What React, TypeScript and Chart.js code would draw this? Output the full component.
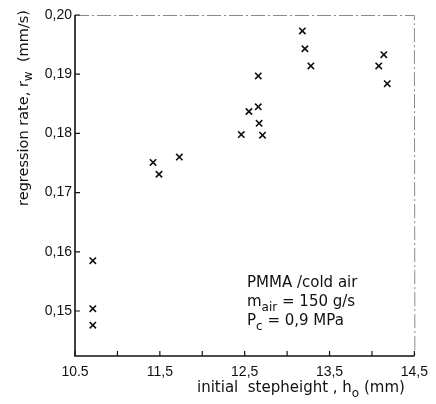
import React, { useEffect, useRef } from "react";
import { Chart, registerables } from "chart.js";

Chart.register(...registerables);

const stepHeight = [10.71, 10.71, 10.71, 11.42, 11.49, 11.73, 12.46, 12.55, 12.66, 12.67, 12.66, 12.71, 13.18, 13.21, 13.28, 14.08, 14.14, 14.18];
const regressionRate = [0.1585, 0.1504, 0.1476, 0.1751, 0.1731, 0.176, 0.1798, 0.1837, 0.1845, 0.1817, 0.1897, 0.1797, 0.1973, 0.1943, 0.1914, 0.1914, 0.1933, 0.1884];
const xTickValues = [10.5, 11.0, 11.5, 12.0, 12.5, 13.0, 13.5, 14.0, 14.5];
const xTickLabels: Record<string, string> = { "10.5": "10.5", "11.5": "11,5", "12.5": "12,5", "13.5": "13,5", "14.5": "14,5" };
const yTickValues = [0.15, 0.16, 0.17, 0.18, 0.19, 0.2];
const yTickLabels = ["0,15", "0,16", "0,17", "0,18", "0,19", "0,20"];

const FONT = "'Liberation Sans', Arial, sans-serif";
const TFONT = "'DejaVu Sans', sans-serif";
type Part = [string, boolean];

function richWidth(ctx: CanvasRenderingContext2D, parts: Part[], size: number) {
  let w = 0;
  for (const [t, sub] of parts) {
    ctx.font = `${sub ? Math.round(size * 0.8) : size}px ${TFONT}`;
    w += ctx.measureText(t).width;
  }
  return w;
}
function drawRich(ctx: CanvasRenderingContext2D, parts: Part[], x: number, y: number, size: number) {
  let cx = x;
  for (const [t, sub] of parts) {
    ctx.font = `${sub ? Math.round(size * 0.8) : size}px ${TFONT}`;
    ctx.fillText(t, cx, sub ? y + size * 0.3 : y);
    cx += ctx.measureText(t).width;
  }
}

const decorPlugin = {
  id: "decor",
  afterDraw(chart: any) {
    const ctx: CanvasRenderingContext2D = chart.ctx;
    const { left, right, top, bottom } = chart.chartArea;
    const xs = chart.scales.x;
    const ys = chart.scales.y;
    ctx.save();
    // frame: top & right faint
    ctx.strokeStyle = "#8a8a8a";
    ctx.lineWidth = 1;
    ctx.setLineDash([14, 3, 2, 3]);
    ctx.beginPath();
    ctx.moveTo(left, top + 0.5);
    ctx.lineTo(right, top + 0.5);
    ctx.lineTo(right + 0.5, bottom);
    ctx.stroke();
    ctx.setLineDash([]);
    // left & bottom axes
    ctx.strokeStyle = "#111";
    ctx.lineWidth = 1.6;
    ctx.beginPath();
    ctx.moveTo(left, top);
    ctx.lineTo(left, bottom);
    ctx.lineTo(right, bottom);
    ctx.stroke();
    // inward ticks
    ctx.lineWidth = 1.2;
    ctx.beginPath();
    for (const v of xTickValues) {
      const px = xs.getPixelForValue(v);
      ctx.moveTo(px, bottom);
      ctx.lineTo(px, bottom - 5);
    }
    for (const v of yTickValues) {
      const py = ys.getPixelForValue(v);
      ctx.moveTo(left, py);
      ctx.lineTo(left + 5, py);
    }
    ctx.stroke();

    ctx.fillStyle = "#111";
    ctx.textBaseline = "alphabetic";
    ctx.textAlign = "left";
    // y title
    const yParts: Part[] = [["regression rate, r", false], ["w", true], ["  (mm/s)", false]];
    ctx.save();
    ctx.translate(28, 108);
    ctx.rotate(-Math.PI / 2);
    const yw = richWidth(ctx, yParts, 14.5);
    drawRich(ctx, yParts, -yw / 2, 0, 14.5);
    ctx.restore();
    // x title
    const xParts: Part[] = [["initial  stepheight , h", false], ["o", true], [" (mm)", false]];
    drawRich(ctx, xParts, 197, 392, 15);
    // annotation
    drawRich(ctx, [["PMMA /cold air", false]], 247, 287, 15);
    drawRich(ctx, [["m", false], ["air", true], [" = 150 g/s", false]], 247, 306, 15);
    drawRich(ctx, [["P", false], ["c", true], [" = 0,9 MPa", false]], 247, 325, 15);
    ctx.restore();
  },
};

export default function App() {
  const ref = useRef<HTMLCanvasElement>(null);
  useEffect(() => {
    const canvas = ref.current!;
    const chart = new Chart(canvas, {
      type: "scatter",
      data: {
        datasets: [
          {
            data: stepHeight.map((x, i) => ({ x, y: regressionRate[i] })),
            pointStyle: "crossRot",
            pointRadius: 4.5,
            pointBorderWidth: 1.6,
            borderColor: "#111",
            backgroundColor: "#111",
          },
        ],
      },
      options: {
        animation: false,
        responsive: false,
        layout: { padding: { left: 0, top: 15, right: 18, bottom: 0 } },
        plugins: { legend: { display: false }, tooltip: { enabled: false } },
        scales: {
          x: {
            type: "linear",
            min: 10.5,
            max: 14.5,
            border: { display: false },
            grid: { display: false, drawTicks: false },
            afterBuildTicks: (s: any) => {
              s.ticks = xTickValues.map((v) => ({ value: v }));
            },
            afterFit: (s: any) => {
              s.height = 48;
            },
            ticks: {
              autoSkip: false,
              maxRotation: 0,
              padding: 8,
              color: "#111",
              font: { family: FONT, size: 14 },
              callback: (v: any) => xTickLabels[Number(v).toFixed(1)] ?? "",
            },
          },
          y: {
            type: "linear",
            min: 0.1424,
            max: 0.2,
            border: { display: false },
            grid: { display: false, drawTicks: false },
            afterBuildTicks: (s: any) => {
              s.ticks = yTickValues.map((v) => ({ value: v }));
            },
            afterFit: (s: any) => {
              s.width = 75;
            },
            ticks: {
              autoSkip: false,
              padding: 3,
              color: "#111",
              font: { family: FONT, size: 14 },
              callback: (v: any) => {
                const i = yTickValues.findIndex((t) => Math.abs(t - Number(v)) < 1e-6);
                return i >= 0 ? yTickLabels[i] : "";
              },
            },
          },
        },
      },
      plugins: [decorPlugin],
    });
    return () => chart.destroy();
  }, []);
  return (
    <div style={{ position: "fixed", left: 0, top: 0, width: 436, height: 404, background: "#fff" }}>
      <canvas ref={ref} width={436} height={404} />
    </div>
  );
}
